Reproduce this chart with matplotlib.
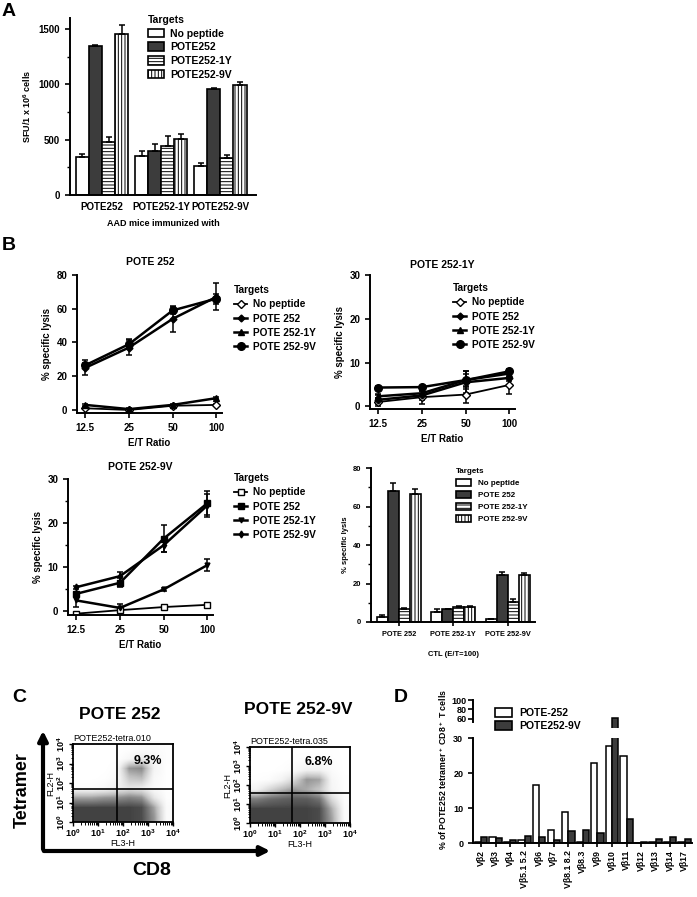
import numpy as np
import matplotlib
matplotlib.use('Agg')
import matplotlib.pyplot as plt
from matplotlib.patches import Rectangle, FancyArrowPatch
from matplotlib.lines import Line2D
from matplotlib.ticker import MultipleLocator

plt.rcParams['font.family'] = ['Liberation Sans', 'DejaVu Sans']
plt.rcParams['font.weight'] = 'bold'
plt.rcParams['axes.labelweight'] = 'bold'
plt.rcParams['mathtext.fontset'] = 'custom'
plt.rcParams['mathtext.rm'] = 'Liberation Sans'
plt.rcParams['mathtext.bf'] = 'Liberation Sans:bold'
plt.rcParams['hatch.linewidth'] = 0.7
plt.rcParams['axes.linewidth'] = 1.4

W, H = 697, 897
DARK = '#3c3c3c'

#%% data
# A: SFU per 1e6 cells
a_groups = ['POTE252', 'POTE252-1Y', 'POTE252-9V']
a_targets = ['No peptide', 'POTE252', 'POTE252-1Y', 'POTE252-9V']
a_nopep = [340, 350, 260]
a_nopep_err = [35, 45, 30]
a_252 = [1345, 400, 955]
a_252_err = [10, 60, 10]
a_1y = [480, 440, 330]
a_1y_err = [40, 95, 30]
a_9v = [1455, 510, 995]
a_9v_err = [80, 45, 30]

# B: % specific lysis vs E/T ratio
et_ratio = ['12.5', '25', '50', '100']
b_targets = ['No peptide', 'POTE 252', 'POTE 252-1Y', 'POTE 252-9V']

tl_nopep = [1.0, 0.0, 2.5, 3.0]
tl_nopep_err = [0.5, 0.5, 0.5, 0.5]
tl_252 = [25.0, 37.0, 54.0, 67.0]
tl_252_err = [4.5, 4.5, 7.5, 8.0]
tl_1y = [3.0, 0.5, 3.0, 7.0]
tl_1y_err = [0.5, 0.5, 0.5, 0.5]
tl_9v = [26.5, 39.0, 59.0, 66.0]
tl_9v_err = [1.5, 3.0, 2.0, 3.0]

tr_nopep = [1.0, 2.1, 2.7, 4.9]
tr_nopep_err = [1.0, 1.5, 2.0, 2.0]
tr_252 = [1.5, 2.5, 5.5, 6.5]
tr_252_err = [1.0, 1.0, 2.5, 0.8]
tr_1y = [2.3, 3.0, 6.0, 7.5]
tr_1y_err = [0.5, 1.0, 1.5, 1.0]
tr_9v = [4.3, 4.4, 6.0, 8.0]
tr_9v_err = [0.3, 0.3, 2.0, 0.4]

bl_nopep = [-0.5, 0.3, 1.0, 1.5]
bl_nopep_err = [0.3, 0.3, 0.3, 0.5]
bl_252 = [4.0, 6.5, 16.5, 24.5]
bl_252_err = [0.5, 1.0, 3.0, 2.7]
bl_1y = [2.5, 0.8, 5.0, 10.5]
bl_1y_err = [1.5, 1.0, 0.3, 1.3]
bl_9v = [5.5, 8.0, 15.0, 24.0]
bl_9v_err = [0.3, 1.0, 1.5, 2.5]

br_groups = ['POTE 252', 'POTE 252-1Y', 'POTE 252-9V']
br_nopep = [2.5, 5.0, 1.5]
br_nopep_err = [1.0, 2.0, 0.3]
br_252 = [68.0, 6.5, 24.5]
br_252_err = [4.0, 0.5, 1.5]
br_1y = [7.0, 8.0, 10.5]
br_1y_err = [0.5, 0.5, 1.5]
br_9v = [66.5, 8.0, 24.5]
br_9v_err = [2.5, 0.3, 1.0]

# C: dot density (log decades, 0.5 decade cells, rows bottom->top)
c_252_density = [
    [0.95, 0.95, 0.95, 0.95, 0.95, 0.92, 0.60, 0.05],
    [0.95, 0.95, 0.95, 0.95, 0.95, 0.92, 0.55, 0.05],
    [0.55, 0.55, 0.60, 0.62, 0.68, 0.62, 0.22, 0.02],
    [0.03, 0.03, 0.06, 0.14, 0.22, 0.18, 0.05, 0.01],
    [0.00, 0.00, 0.01, 0.05, 0.40, 0.45, 0.07, 0.01],
    [0.00, 0.00, 0.00, 0.02, 0.60, 0.65, 0.12, 0.01],
    [0.00, 0.00, 0.00, 0.00, 0.08, 0.18, 0.09, 0.02],
    [0.00, 0.00, 0.00, 0.00, 0.01, 0.03, 0.04, 0.02],
]
c_9v_density = [
    [0.95, 0.95, 0.95, 0.95, 0.95, 0.92, 0.55, 0.05],
    [0.95, 0.95, 0.95, 0.95, 0.95, 0.92, 0.50, 0.05],
    [0.70, 0.78, 0.82, 0.85, 0.85, 0.75, 0.28, 0.03],
    [0.12, 0.30, 0.45, 0.58, 0.52, 0.40, 0.10, 0.01],
    [0.01, 0.03, 0.12, 0.30, 0.60, 0.55, 0.08, 0.01],
    [0.00, 0.00, 0.01, 0.05, 0.14, 0.14, 0.04, 0.00],
    [0.00, 0.00, 0.00, 0.01, 0.03, 0.04, 0.02, 0.00],
    [0.00, 0.00, 0.00, 0.00, 0.00, 0.01, 0.01, 0.00],
]
c_gates = [(1.76, 1.69), (1.68, 1.58)]   # (FL3 gate, FL2 gate) in decades
c_pct = ['9.3%', '6.8%']

# D: TCR Vbeta usage
vb_labels = ['Vβ2', 'Vβ3', 'Vβ4', 'Vβ5.1 5.2', 'Vβ6', 'Vβ7', 'Vβ8.1 8.2', 'Vβ8.3',
             'Vβ9', 'Vβ10', 'Vβ11', 'Vβ12', 'Vβ13', 'Vβ14', 'Vβ17']
d_252 = [0.3, 1.7, 0.3, 0.8, 16.5, 3.8, 8.9, 0.3, 23.0, 27.8, 25.0, 0.1, 0.3, 0.3, 0.2]
d_9v = [1.6, 1.5, 0.8, 2.1, 1.7, 0.9, 3.5, 3.7, 2.9, 62.0, 6.8, 0.4, 1.2, 1.6, 1.2]


#%% helpers
fig = plt.figure(figsize=(W / 100, H / 100), dpi=100)


def px_axes(x0, y0, x1, y1):
    return fig.add_axes([x0 / W, 1 - y1 / H, (x1 - x0) / W, (y1 - y0) / H])


def ftext(x, y, s, **kw):
    kw.setdefault('ha', 'center')
    kw.setdefault('va', 'center')
    return fig.text(x / W, 1 - y / H, s, **kw)


def prism_axes(ax, fs):
    for s in ['top', 'right']:
        ax.spines[s].set_visible(False)
    ax.tick_params(direction='out', length=3.5, width=1.2, labelsize=fs)
    ax.tick_params(which='minor', direction='out', length=2, width=1.0)


def legend(ax, handles, labels, x, y, fs, title='Targets', **kw):
    leg = ax.legend(handles, labels, title=title, loc='upper left',
                    bbox_to_anchor=(x / W, 1 - y / H), bbox_transform=fig.transFigure,
                    frameon=False, fontsize=fs, title_fontsize=fs, borderpad=0,
                    borderaxespad=0, alignment='left', **kw)
    if title:
        leg.get_title().set_fontweight('bold')
    return leg


bar_styles = [dict(facecolor='white', hatch=None),
              dict(facecolor=DARK, hatch=None),
              dict(facecolor='white', hatch='-----'),
              dict(facecolor='white', hatch='|||||')]


def bar_handles():
    return [Rectangle((0, 0), 1, 1, edgecolor='k', lw=1.2, **st) for st in bar_styles]


def grouped_bars(ax, series, errs, width):
    x = np.arange(len(series[0]))
    for i, (vals, err, st) in enumerate(zip(series, errs, bar_styles)):
        xi = x + (i - 1.5) * width
        ax.bar(xi, vals, width, edgecolor='k', lw=1.2, **st)
        ax.errorbar(xi, vals, yerr=[np.zeros(len(err)), err], fmt='none',
                    ecolor='k', elinewidth=1.1, capsize=2.5, capthick=1.1)


#%% A
axA = px_axes(70, 18, 256, 195)
grouped_bars(axA, [a_nopep, a_252, a_1y, a_9v],
             [a_nopep_err, a_252_err, a_1y_err, a_9v_err], 0.22)
axA.set_xlim(-0.54, 2.6)
axA.set_ylim(0, 1600)
axA.set_yticks([0, 500, 1000, 1500])
axA.yaxis.set_minor_locator(MultipleLocator(250))
axA.set_xticks(range(3))
axA.set_xticklabels(a_groups)
prism_axes(axA, 7)
axA.tick_params(axis='x', length=0, pad=5)
axA.set_ylabel('SFU/1 x 10$^6$ cells', fontsize=6.5, labelpad=4)
axA.set_xlabel('AAD mice immunized with', fontsize=6.5, labelpad=5)
legend(axA, bar_handles(), a_targets, 148, 15, 7.5, handlelength=1.5,
       handleheight=0.9, labelspacing=0.35, handletextpad=0.6)
ftext(9, 11, 'A', fontsize=14)
ftext(9, 245, 'B', fontsize=14)

#%% B line plots
line_styles_top = [dict(marker='D', mfc='white', ms=4, lw=1.3),
                   dict(marker='D', mfc='k', ms=3.5, lw=1.8),
                   dict(marker='^', mfc='k', ms=5, lw=1.8),
                   dict(marker='o', mfc='k', ms=5.5, lw=1.8)]
line_styles_bot = [dict(marker='s', mfc='white', ms=4, lw=1.3),
                   dict(marker='s', mfc='k', ms=4, lw=1.8),
                   dict(marker='v', mfc='k', ms=3.5, lw=1.8),
                   dict(marker='d', mfc='k', ms=3.5, lw=1.8)]


def lysis_plot(box, series, errs, styles, ylim, yticks, title, title_xy, xlab_pad, leg_xy,
               minor=None):
    ax = px_axes(*box)
    x = np.arange(4)
    for vals, err, st in zip(series, errs, styles):
        ax.errorbar(x, vals, yerr=err, color='k', mec='k', capsize=2.5,
                    elinewidth=1.1, capthick=1.1, **st)
    ax.set_xlim(-0.19, 3.13)
    ax.set_ylim(*ylim)
    ax.set_yticks(yticks)
    if minor:
        ax.yaxis.set_minor_locator(MultipleLocator(minor))
    ax.set_xticks(x)
    ax.set_xticklabels(et_ratio)
    prism_axes(ax, 7)
    ax.set_xlabel('E/T Ratio', fontsize=7, labelpad=xlab_pad)
    ax.set_ylabel('% specific lysis', fontsize=7, labelpad=3)
    ftext(*title_xy, title, fontsize=7.5)
    handles = [Line2D([], [], color='k', mec='k', **st) for st in styles]
    legend(ax, handles, b_targets, *leg_xy, 7.3, handlelength=1.3,
           labelspacing=0.42, handletextpad=0.6)
    return ax


lysis_plot((77, 275, 222, 413), [tl_nopep, tl_252, tl_1y, tl_9v],
           [tl_nopep_err, tl_252_err, tl_1y_err, tl_9v_err], line_styles_top,
           (-1.8, 80), [0, 20, 40, 60, 80], 'POTE 252', (150, 262), 4, (234, 285))
lysis_plot((370, 275, 515, 409), [tr_nopep, tr_252, tr_1y, tr_9v],
           [tr_nopep_err, tr_252_err, tr_1y_err, tr_9v_err], line_styles_top,
           (-0.6, 30), [0, 10, 20, 30], 'POTE 252-1Y', (442, 265), 4, (453, 283))
lysis_plot((68, 479, 213, 615), [bl_nopep, bl_252, bl_1y, bl_9v],
           [bl_nopep_err, bl_252_err, bl_1y_err, bl_9v_err], line_styles_bot,
           (-0.8, 30), [0, 10, 20, 30], 'POTE 252-9V', (140, 467), 4, (234, 473), minor=5)

#%% B bar plot
axBR = px_axes(371, 468, 535, 622)
grouped_bars(axBR, [br_nopep, br_252, br_1y, br_9v],
             [br_nopep_err, br_252_err, br_1y_err, br_9v_err], 0.2)
axBR.set_xlim(-0.51, 2.5)
axBR.set_ylim(0, 80)
axBR.set_yticks([0, 20, 40, 60, 80])
axBR.yaxis.set_minor_locator(MultipleLocator(10))
axBR.set_xticks(range(3))
axBR.set_xticklabels(br_groups)
prism_axes(axBR, 5.5)
axBR.tick_params(axis='x', length=3, labelsize=5.3)
axBR.set_ylabel('% specific lysis', fontsize=5.5, labelpad=3)
axBR.set_xlabel('CTL (E/T=100)', fontsize=5.5, labelpad=9)
legend(axBR, bar_handles(), b_targets, 456, 468, 5.8, handlelength=1.9,
       handleheight=1.0, labelspacing=0.45, handletextpad=0.8)

#%% C dot plots
ftext(19, 697, 'C', fontsize=14)


def dot_plot(box, dens, gate, pct, pct_xy, title, title_xy, sub):
    ax = px_axes(*box)
    ax.imshow(np.array(dens), origin='lower', extent=[0, 4, 0, 4], cmap='Greys',
              vmin=0, vmax=1.2, interpolation='bilinear', aspect='auto')
    ax.axvline(gate[0], color='k', lw=1.2)
    ax.axhline(gate[1], color='k', lw=1.2)
    ax.set_xlim(0, 4)
    ax.set_ylim(0, 4)
    dec = [0, 1, 2, 3, 4]
    minor = [d + np.log10(m) for d in range(4) for m in range(2, 10)]
    labs = ['$10^{%d}$' % d for d in dec]
    ax.set_xticks(dec)
    ax.set_xticklabels(labs, fontweight='normal')
    ax.set_yticks(dec)
    ax.set_yticklabels(labs, rotation=90, va='center', fontweight='normal')
    ax.set_xticks(minor, minor=True)
    ax.set_yticks(minor, minor=True)
    ax.tick_params(direction='out', length=3, width=1.0, labelsize=6.5, pad=1)
    ax.tick_params(which='minor', direction='out', length=1.8, width=0.7)
    for s in ax.spines.values():
        s.set_linewidth(1.3)
    ax.set_xlabel('FL3-H', fontsize=6.5, fontweight='normal', labelpad=0)
    ax.set_ylabel('FL2-H', fontsize=6.5, fontweight='normal', labelpad=0)
    ax.text(*pct_xy, pct, fontsize=9, ha='center', va='center')
    ftext(*title_xy, title, fontsize=12.5)
    ftext(box[0], box[1] - 6, sub, fontsize=6.5, fontweight='normal', ha='left')


dot_plot((73, 744, 173, 822), c_252_density, c_gates[0], c_pct[0], (3.0, 3.13),
         'POTE 252', (120, 714), 'POTE252-tetra.010')
dot_plot((250, 747, 350, 823), c_9v_density, c_gates[1], c_pct[1], (2.76, 3.2),
         'POTE 252-9V', (298, 710), 'POTE252-tetra.035')

fig.add_artist(FancyArrowPatch((43 / W, 1 - 852 / H), (43 / W, 1 - 728 / H),
                               transform=fig.transFigure, arrowstyle='-|>',
                               mutation_scale=14, lw=3, color='k'))
fig.add_artist(FancyArrowPatch((41 / W, 1 - 851 / H), (273 / W, 1 - 851 / H),
                               transform=fig.transFigure, arrowstyle='-|>',
                               mutation_scale=14, lw=3, color='k'))
ftext(22, 790, 'Tetramer', fontsize=13, rotation=90)
ftext(152, 870, 'CD8', fontsize=14)

#%% D broken-axis bars
ftext(401, 697, 'D', fontsize=14)
xd = np.arange(len(vb_labels))
bw = 0.43
axD = px_axes(473, 738, 692, 843)
axDt = px_axes(473, 700, 692, 728)
for ax in (axD, axDt):
    ax.bar(xd - bw / 2, d_252, bw, facecolor='white', edgecolor='k', lw=1.1)
    ax.bar(xd + bw / 2, d_9v, bw, facecolor=DARK, edgecolor='k', lw=1.1)
    ax.set_xlim(-0.55, 14.5)
    prism_axes(ax, 6.5)
axD.set_ylim(0, 30)
axD.set_yticks([0, 10, 20, 30])
axD.set_xticks(xd)
axD.set_xticklabels(vb_labels, rotation=90, fontsize=6.3)
axD.tick_params(axis='x', length=3, pad=2)
axDt.set_ylim(40, 100)
axDt.set_yticks([60, 80, 100])
axDt.spines['left'].set_bounds(52, 100)
axDt.spines['bottom'].set_visible(False)
axDt.set_xticks([])
axDt.tick_params(axis='y', pad=1)
axDt.patch.set_visible(False)
ftext(443, 770, '% of POTE252 tetramer$^+$ CD8$^+$ T cells', fontsize=6.3, rotation=90)
legend(axDt, [Rectangle((0, 0), 1, 1, facecolor='white', edgecolor='k', lw=1.2),
              Rectangle((0, 0), 1, 1, facecolor=DARK, edgecolor='k', lw=1.2)],
       ['POTE-252', 'POTE252-9V'], 495, 708, 7.5, title=None, handlelength=1.6,
       handleheight=0.9, labelspacing=0.3, handletextpad=0.7)

fig.savefig('out.png', dpi=100)
